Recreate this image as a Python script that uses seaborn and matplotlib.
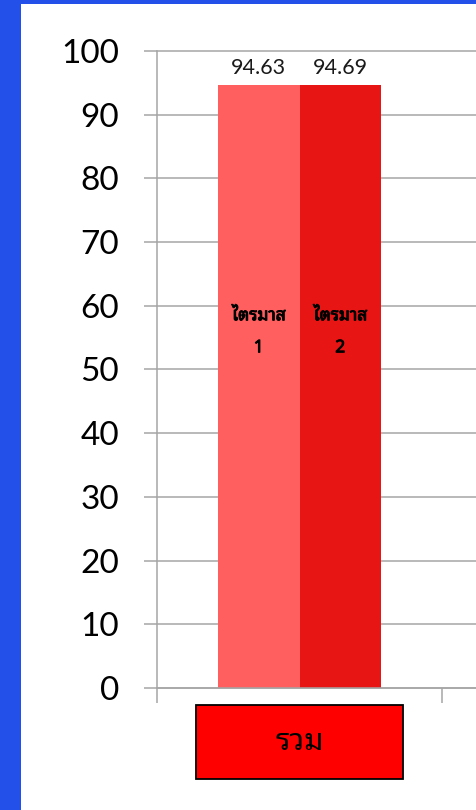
import numpy as np
import pandas as pd
import matplotlib
matplotlib.use("Agg")
import matplotlib.pyplot as plt
import matplotlib.patheffects as pe
import seaborn as sns
from matplotlib import font_manager
from matplotlib.ft2font import FT2Font
from matplotlib.patches import Rectangle

# data
groups = ["รวม"]
quarters = ["ไตรมาส\n1", "ไตรมาส\n2"]
scores = [94.63, 94.69]
yticks = list(range(0, 101, 10))

colors = ["#FF5F5F", "#E81515"]
grid_gray = "#A6A6A6"
blue = "#2350E8"

LOOPED = ["Noto Sans Thai Looped", "Noto Serif Thai", "Loma", "Garuda", "Norasi",
          "Kinnari", "Sarabun", "Tlwg Typo", "Umpush", "Waree", "Laksaman"]


def thai_font(sample="ไตรมาสรวม"):
    """Return the family name of an installed font that covers Thai text."""
    hits = []
    for f in font_manager.fontManager.ttflist:
        try:
            cmap = FT2Font(f.fname).get_charmap()
        except Exception:
            continue
        if all(ord(c) in cmap for c in sample):
            hits.append(f.name)
    hits = set(hits)
    for name in LOOPED:
        if name in hits:
            return name
    hits = sorted(hits, key=lambda n: (0 if "Thai" in n else 1, n))
    return hits[0] if hits else "DejaVu Sans"


sns.set_theme(style="white")
plt.rcParams["font.family"] = ["Lato", "DejaVu Sans"]
thai = thai_font()

W, H = 477, 810
fig = plt.figure(figsize=(W / 100, H / 100), dpi=100, facecolor=blue)
fig.patches.append(Rectangle((21 / W, 0), 1, (H - 4) / H, transform=fig.transFigure,
                             facecolor="white", edgecolor="none", zorder=-5))

ax = fig.add_axes([157 / W, (H - 688) / H, 570 / W, 637 / H])
ax.set_facecolor("none")

df = pd.DataFrame({"group": groups * len(quarters), "quarter": quarters, "score": scores})
sns.barplot(data=df, x="group", y="score", hue="quarter", palette=colors,
            saturation=1, width=0.572, dodge=True, linewidth=0, ax=ax, legend=False,
            errorbar=None)

ax.set_xlim(-0.5, 1.5)
ax.set_ylim(0, 100)
ax.set_xlabel("")
ax.set_ylabel("")
ax.set_yticks(yticks)
ax.set_yticklabels([str(v) for v in yticks], fontsize=24, color="black")
ax.set_xticks([-0.5, 0.5])
ax.set_xticklabels([])
ax.tick_params(axis="y", which="major", direction="out", length=9.4, width=1.1,
               color=grid_gray, pad=18, left=True)
ax.tick_params(axis="x", which="major", direction="out", length=10.5, width=1.1,
               color=grid_gray, bottom=True)
ax.yaxis.grid(True, color=grid_gray, linewidth=1.1)
ax.xaxis.grid(False)
ax.set_axisbelow(True)
for side in ["top", "right"]:
    ax.spines[side].set_visible(False)
for side in ["left", "bottom"]:
    ax.spines[side].set_color(grid_gray)
    ax.spines[side].set_linewidth(1.1)
for line in ax.get_ygridlines():
    line.set_clip_on(False)

# value labels above the bars and quarter names inside them
bold = [pe.withStroke(linewidth=0.7, foreground="black")]
for cont, name in zip(ax.containers, quarters):
    ax.bar_label(cont, fmt="%.2f", padding=5, fontsize=15.5, color="#1a1a1a")
    for patch in cont:
        cx = patch.get_x() + patch.get_width() / 2
        ax.text(cx, 56, name, ha="center", va="center", fontsize=12.5,
                fontweight="bold", family=[thai, "DejaVu Sans"], linespacing=2.0,
                color="black", path_effects=bold)

# category label box under the axis
fig.patches.append(Rectangle((196 / W, (H - 779) / H), 207 / W, 74 / H,
                             transform=fig.transFigure, facecolor="#FF0000",
                             edgecolor="black", linewidth=1.3, zorder=3))
fig.text(299.5 / W, (H - 742) / H, groups[0], ha="center", va="center",
         fontsize=22, family=[thai, "DejaVu Sans"], color="black", zorder=4)

fig.savefig("out.png", dpi=100, facecolor=blue)
